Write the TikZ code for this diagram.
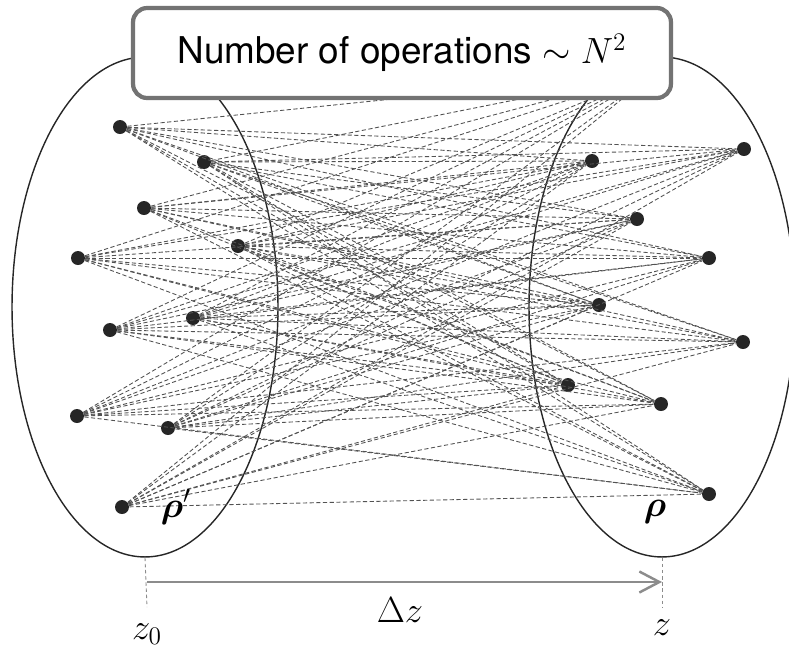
\documentclass[tikz,border=0pt]{standalone}
\usepackage{amsmath}
\usepackage{amssymb}
\usepackage{fontspec}
\setsansfont{TeX Gyre Heros}
\usepackage{tikz}
\usetikzlibrary{
    arrows.meta,
    shapes.geometric
}

\tikzset{
    plane/.style={draw=black!85, line width=0.8pt, ellipse,
        minimum width=5.32cm, minimum height=10cm, inner sep=0pt},
    dot/.style={circle, fill=black!85, inner sep=0pt, minimum size=0.28cm},
    link/.style={draw=black!68, line width=0.5pt, dash pattern=on 2.4pt off 1.4pt},
    guide/.style={draw=black!45, line width=0.5pt, dash pattern=on 2pt off 1.5pt},
    opsbox/.style={draw=black!55, line width=2.4pt, rounded corners=8pt, fill=white,
        minimum width=10.76cm, minimum height=1.8cm,
        font=\sffamily\fontsize{21}{24}\selectfont},
    lbl/.style={font=\fontsize{21}{24}\selectfont}
}

\begin{document}
\begin{tikzpicture}[x=0.02cm, y=-0.02cm]

\useasboundingbox (0,0) rectangle (789,654);

% Planes
\node[plane] (planeL) at (145,307) {};
\node[plane] (planeR) at (662,307) {};

% Points in plane z0
\foreach \n/\x/\y in {1/120/127, 2/204/162, 3/144/208, 4/238/246, 5/78/258,
                      6/193/318, 7/110/330, 8/77/416, 9/168/428, 10/122/507}
    \node[dot] (l\n) at (\x,\y) {};

% Points in plane z (first one sits under the box)
\foreach \n/\x/\y in {1/655/72, 2/592/161, 3/744/149, 4/637/219, 5/709/258,
                      6/599/305, 7/743/342, 8/568/385, 9/661/404, 10/709/494}
    \node[dot] (r\n) at (\x,\y) {};

% All pairs
\foreach \i in {1,...,10}
    \foreach \j in {1,...,10}
        \draw[link] (l\i) -- (r\j);

% Propagation distance
\coordinate (t0) at (147,607);
\coordinate (t1) at (662,607);
\coordinate (a0) at (147,582);
\coordinate (a1) at (662,582);
\draw[guide] (planeL.south) -- (t0);
\draw[guide] (planeR.south) -- (t1);
\draw[draw=black!45, line width=1.4pt, -{Straight Barb[length=4mm,width=4.2mm]}] (a0) -- (a1);

% Labels
\node[lbl] (z0) at (147,634) {$z_0$};
\node[lbl] (zz) at (662,628) {$z$};
\node[lbl] (dz) at (400,610) {$\Delta z$};
\node[lbl] (rhoL) at (176,507) {$\boldsymbol{\rho}'$};
\node[lbl] (rhoR) at (655,512) {$\boldsymbol{\rho}$};

% Box
\node[opsbox] (ops) at (402,53) {Number of operations $\sim N^2$};

\end{tikzpicture}
\end{document}
